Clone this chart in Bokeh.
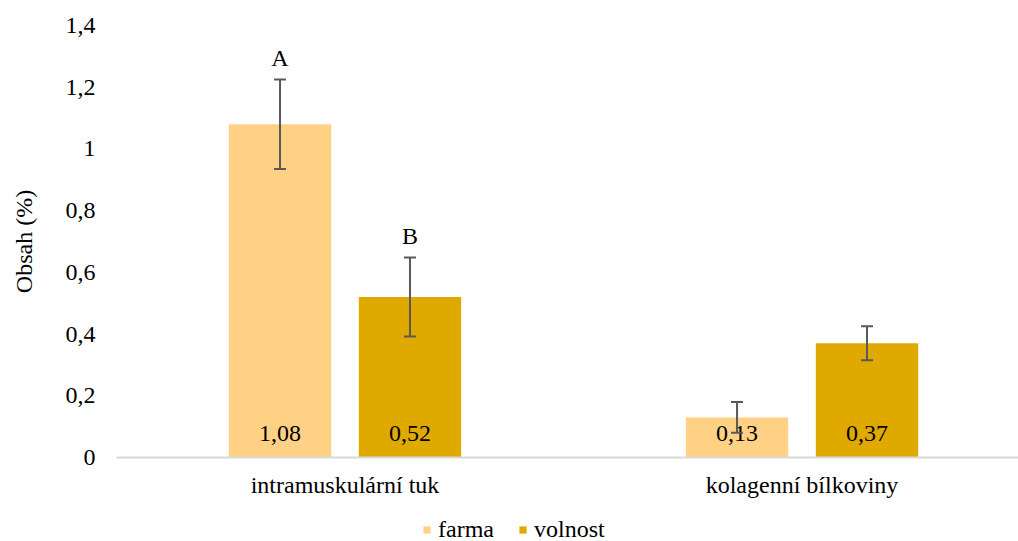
from bokeh.plotting import figure
from bokeh.models import ColumnDataSource, Range1d, FixedTicker, Whisker, Legend, LegendItem
from bokeh.layouts import column
from bokeh.embed import file_html
from bokeh.resources import INLINE
from bokeh.core.properties import value

categories = ["intramuskulární tuk", "kolagenní bílkoviny"]
farma = [1.08, 0.13]
volnost = [0.52, 0.37]
farma_err = [0.145, 0.05]
volnost_err = [0.128, 0.055]
farma_letters = ["A", ""]
volnost_letters = ["B", ""]
y_ticks = [0, 0.2, 0.4, 0.6, 0.8, 1.0, 1.2, 1.4]
series_names = ["farma", "volnost"]

FONT = "Liberation Serif"
FS = "24px"
C_FARMA = "#FFD185"
C_VOLNOST = "#E0A900"
C_ERR = "#595959"

def fmt(v):
    s = ("%.2f" % v).rstrip("0").rstrip(".")
    return s.replace(".", ",")

centers = [i + 0.5 for i in range(len(categories))]
off = 0.1422
bw = 0.224

def src(vals, errs, letters, sign):
    x = [c + sign * off for c in centers]
    return ColumnDataSource(dict(
        x=x, top=vals,
        upper=[v + e for v, e in zip(vals, errs)],
        lower=[v - e for v, e in zip(vals, errs)],
        lbl=[fmt(v) for v in vals],
        letter=letters,
        zero=[0] * len(vals),
    ))

s_f = src(farma, farma_err, farma_letters, -1)
s_v = src(volnost, volnost_err, volnost_letters, 1)

p = figure(width=1018, height=500, output_backend="svg", toolbar_location=None,
           x_range=Range1d(0, 1.9737), y_range=Range1d(0, 1.4),
           min_border_left=116, min_border_right=0, min_border_top=25, min_border_bottom=42)
p.outline_line_color = None
p.grid.visible = False

p.vbar(x="x", top="top", width=bw, source=s_f, fill_color=C_FARMA, line_color=None)
p.vbar(x="x", top="top", width=bw, source=s_v, fill_color=C_VOLNOST, line_color=None)

for s in (s_f, s_v):
    w = Whisker(base="x", upper="upper", lower="lower", source=s,
                line_color=C_ERR, line_width=2, level="overlay")
    for h in (w.upper_head, w.lower_head):
        h.size = 12
        h.line_color = C_ERR
        h.line_width = 2
    p.add_layout(w)
    p.text(x="x", y="zero", text="lbl", source=s, text_align="center", text_baseline="alphabetic",
           y_offset=-24, text_font=value(FONT), text_font_size=FS, text_color="black")
    p.text(x="x", y="upper", text="letter", source=s, text_align="center", text_baseline="alphabetic",
           y_offset=-22, text_font=value(FONT), text_font_size=FS, text_color="black")

# y axis
p.yaxis.ticker = FixedTicker(ticks=y_ticks)
p.yaxis.major_label_overrides = {t: fmt(t) for t in y_ticks}
p.yaxis.axis_line_color = None
p.yaxis.major_tick_line_color = None
p.yaxis.minor_tick_line_color = None
p.yaxis.major_label_standoff = 15
p.yaxis.major_label_text_font = FONT
p.yaxis.major_label_text_font_size = FS
p.yaxis.major_label_text_color = "black"
p.yaxis.axis_label = "Obsah (%)"
p.yaxis.axis_label_text_font = FONT
p.yaxis.axis_label_text_font_size = FS
p.yaxis.axis_label_text_font_style = "normal"
p.yaxis.axis_label_text_color = "black"
p.yaxis.axis_label_standoff = 26

# x axis
p.xaxis.ticker = FixedTicker(ticks=centers)
p.xaxis.major_label_overrides = {c: n for c, n in zip(centers, categories)}
p.xaxis.axis_line_color = "#D9D9D9"
p.xaxis.axis_line_width = 2
p.xaxis.major_tick_line_color = None
p.xaxis.minor_tick_line_color = None
p.xaxis.major_label_standoff = 8
p.xaxis.major_label_text_font = FONT
p.xaxis.major_label_text_font_size = FS
p.xaxis.major_label_text_color = "black"

# legend strip below the chart (its frame is aligned with the chart frame)
lg = figure(width=1018, height=41, output_backend="svg", toolbar_location=None,
            x_range=Range1d(0, 1), y_range=Range1d(0, 1),
            x_axis_type=None, y_axis_type=None, min_border=0)
lg.outline_line_color = None
lg.grid.visible = False
r_f = lg.vbar(x=[-1], top=[0], width=0.1, fill_color=C_FARMA, line_color=None)
r_v = lg.vbar(x=[-1], top=[0], width=0.1, fill_color=C_VOLNOST, line_color=None)
legend = Legend(items=[LegendItem(label=series_names[0], renderers=[r_f]),
                       LegendItem(label=series_names[1], renderers=[r_v])],
                orientation="horizontal", location=(306, -2),
                label_text_font=FONT, label_text_font_size=FS, label_text_color="black",
                glyph_width=9, glyph_height=9, spacing=24, label_standoff=7,
                border_line_color=None, padding=0, margin=0,
                background_fill_alpha=0)
lg.add_layout(legend, "center")

layout = column(p, lg, spacing=0)
open("out.html", "w").write(file_html(layout, INLINE))
